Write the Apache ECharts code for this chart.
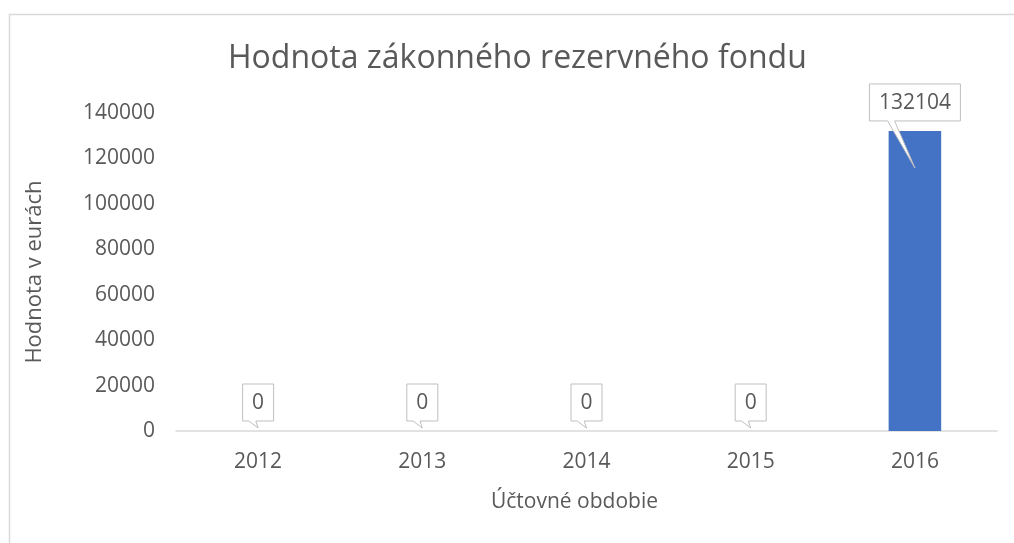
<!DOCTYPE html>
<html>
<head>
<meta charset="utf-8">
<script src="https://cdn.jsdelivr.net/npm/echarts@6/dist/echarts.min.js"></script>
<style>
  html, body { margin: 0; padding: 0; background: #fff; }
  #chart { width: 1014px; height: 543px; }
</style>
</head>
<body>
<div id="chart"></div>
<script>
var years = ["2012", "2013", "2014", "2015", "2016"];
var values = [0, 0, 0, 0, 132104];
var yTicks = [0, 20000, 40000, 60000, 80000, 100000, 120000, 140000];

var textColor = "#595959";
var fontName = "Open Sans";

// callout label drawn on top of each value
function renderCallout(params, api) {
  var v = api.value(1);
  var pt = api.coord([api.value(0), v]);
  var base = api.coord([api.value(0), 0]);
  var label = String(v);
  var w = label.length * 12 + 19;
  var h = 37;
  var cx = pt[0];
  var B = pt[1] - 10;
  var T = B - h;
  var L = cx - w / 2;
  var R = cx + w / 2;
  var x1 = cx - 0.3 * w;
  var x2 = x1 + 7;
  var tipY = Math.min(pt[1] + 37, base[1] - 3);
  return {
    type: "group",
    children: [
      {
        type: "polygon",
        shape: { points: [[L, T], [R, T], [R, B], [x2, B], [cx, tipY], [x1, B], [L, B]] },
        style: { fill: "#fff", stroke: "#bfbfbf", lineWidth: 1 }
      },
      {
        type: "text",
        x: cx,
        y: T + h / 2 + 1,
        style: {
          text: label,
          fill: textColor,
          font: "21px '" + fontName + "'",
          align: "center",
          verticalAlign: "middle"
        }
      }
    ]
  };
}

var myChart = echarts.init(document.getElementById("chart"));
var option = {
  backgroundColor: "#fff",
  animation: false,
  textStyle: { fontFamily: fontName },
  graphic: [
    {
      type: "rect",
      left: 7,
      top: 12,
      shape: { width: 1100, height: 600 },
      style: { fill: "none", stroke: "#d9d9d9", lineWidth: 1.5 },
      silent: true
    }
  ],
  title: {
    text: "Hodnota zákonného rezervného fondu",
    left: 223,
    top: 38,
    textStyle: {
      color: textColor,
      fontSize: 32,
      fontWeight: "normal",
      fontFamily: fontName
    }
  },
  grid: {
    left: 176,
    right: 17,
    top: 113,
    bottom: 112
  },
  xAxis: {
    type: "category",
    data: years,
    name: "Účtovné obdobie",
    nameLocation: "middle",
    nameGap: 61,
    nameTextStyle: { color: textColor, fontSize: 21, fontFamily: fontName, padding: [0, 24, 0, 0] },
    axisLine: { lineStyle: { color: "#d9d9d9", width: 1.5 } },
    axisTick: { show: false },
    axisLabel: { color: textColor, fontSize: 21, margin: 21, fontFamily: fontName }
  },
  yAxis: {
    type: "value",
    min: yTicks[0],
    max: yTicks[yTicks.length - 1],
    interval: yTicks[1] - yTicks[0],
    name: "Hodnota v eurách",
    nameLocation: "middle",
    nameRotate: 90,
    nameGap: 130,
    nameTextStyle: { color: textColor, fontSize: 22, fontFamily: fontName },
    axisLine: { show: false },
    axisTick: { show: false },
    splitLine: { show: false },
    axisLabel: {
      color: textColor,
      fontSize: 21,
      margin: 21,
      fontFamily: fontName,
      formatter: function (v) { return String(v); }
    }
  },
  series: [
    {
      name: "Hodnota",
      type: "bar",
      barWidth: "32%",
      itemStyle: { color: "#4472c4" },
      data: values
    },
    {
      name: "popisky",
      type: "custom",
      renderItem: renderCallout,
      clip: false,
      z: 10,
      data: years.map(function (y, i) { return [i, values[i]]; })
    }
  ]
};
myChart.setOption(option);
</script>
</body>
</html>
